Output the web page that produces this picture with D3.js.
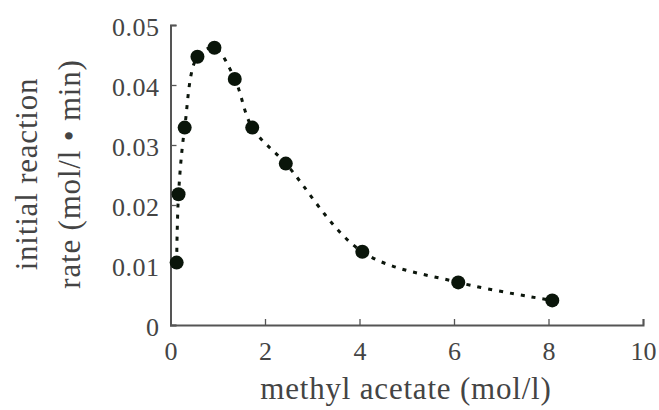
<!DOCTYPE html>
<html>
<head>
<meta charset="utf-8">
<script src="https://cdn.jsdelivr.net/npm/d3@7"></script>
<style>
  html, body { margin: 0; padding: 0; background: #fff; }
  svg { display: block; }
  text { font-family: "Liberation Serif", "Times New Roman", serif; fill: #444; }
</style>
</head>
<body>
<svg id="chart" width="659" height="410"></svg>
<script>
// Methyl acetate concentration (mol/l) and measured initial reaction rate (mol/l·min)
const concentration = [0.13, 0.17, 0.30, 0.57, 0.93, 1.36, 1.73, 2.44, 4.06, 6.09, 8.08];
const rate = [0.0104, 0.0218, 0.0329, 0.0447, 0.0462, 0.0410, 0.0329, 0.0269, 0.0122, 0.0071, 0.0041];
const xTicks = [0, 2, 4, 6, 8, 10];
const yTicks = [0, 0.01, 0.02, 0.03, 0.04, 0.05];
const xTitle = "methyl acetate (mol/l)";
const yTitle = ["initial reaction", "rate (mol/l \u2022 min)"];

const svg = d3.select("#chart");
const x = d3.scaleLinear().domain([0, 10]).range([170.5, 643]);
const y = d3.scaleLinear().domain([0, 0.05]).range([325, 25]);

const axisColor = "#555";

// y axis
const gy = svg.append("g").attr("transform", `translate(${x(0)},0)`)
  .call(d3.axisLeft(y).tickValues(yTicks).tickSize(-6).tickPadding(11)
    .tickFormat(d => d === 0 ? "0" : d3.format(".2f")(d)));
gy.select(".domain").attr("stroke", axisColor).attr("stroke-width", 2);
gy.selectAll(".tick line").attr("stroke", axisColor).attr("stroke-width", 1.3);
gy.selectAll(".tick text").attr("font-size", 26).attr("fill", "#444")
  .attr("font-family", "Liberation Serif").attr("letter-spacing", 0.5).attr("dy", "0.42em");

// x axis
const gx = svg.append("g").attr("transform", `translate(0,${y(0)})`)
  .call(d3.axisBottom(x).tickValues(xTicks).tickSize(-6).tickPadding(17)
    .tickFormat(d3.format("d")));
gx.select(".domain").attr("stroke", axisColor).attr("stroke-width", 2);
gx.selectAll(".tick line").attr("stroke", axisColor).attr("stroke-width", 1.3);
gx.selectAll(".tick text").attr("font-size", 26).attr("fill", "#444")
  .attr("font-family", "Liberation Serif");

// axis titles
svg.append("text")
  .attr("x", 406).attr("y", 399)
  .attr("text-anchor", "middle")
  .attr("font-size", 31).attr("letter-spacing", 0.8)
  .text(xTitle);

const yt = svg.append("g").attr("transform", "translate(0,174) rotate(-90)");
yt.selectAll("text").data(yTitle).join("text")
  .attr("x", 0)
  .attr("y", (d, i) => i === 0 ? 37 : 80)
  .attr("text-anchor", "middle")
  .attr("font-size", 31).attr("letter-spacing", 0.8)
  .text(d => d);

// dotted trend curve through the measurements
const pts = concentration.map((c, i) => [c, rate[i]]);
const line = d3.line()
  .x(d => x(d[0])).y(d => y(d[1]))
  .curve(d3.curveCatmullRom.alpha(0.5));
svg.append("path")
  .datum(pts)
  .attr("d", line)
  .attr("fill", "none")
  .attr("stroke", "#0c160c")
  .attr("stroke-width", 3)
  .attr("stroke-dasharray", "4,7");

// data points
svg.append("g").selectAll("circle").data(pts).join("circle")
  .attr("cx", d => x(d[0]))
  .attr("cy", d => y(d[1]))
  .attr("r", 7)
  .attr("fill", "#0a150a");
</script>
</body>
</html>
